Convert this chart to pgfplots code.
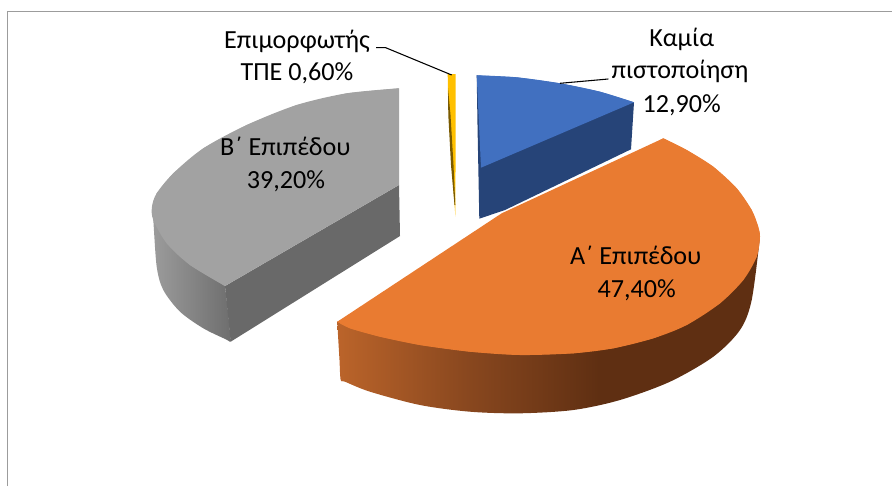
\documentclass[border=0pt]{standalone}
\usepackage{fontspec}
\setmainfont{Carlito}
\usepackage{pgfplots}
\pgfplotsset{compat=1.18}
\definecolor{orS1}{HTML}{BB642A}\definecolor{orS2}{HTML}{8A481F}\definecolor{orS3}{HTML}{5F2F12}
\definecolor{grS1}{HTML}{9C9C9C}\definecolor{grS2}{HTML}{6E6E6E}
\pgfdeclarehorizontalshading{orangeside}{100bp}{color(0bp)=(orS1); color(25bp)=(orS1); color(40bp)=(orS2); color(56bp)=(orS3); color(100bp)=(orS3)}
\pgfdeclarehorizontalshading{greyside}{100bp}{color(0bp)=(grS1); color(25bp)=(grS1); color(75bp)=(grS2); color(100bp)=(grS2)}
\definecolor{orT}{HTML}{E97B31}
\definecolor{blT}{HTML}{4170C0}
\definecolor{blS}{HTML}{264478}
\definecolor{grT}{HTML}{A2A2A2}
\definecolor{grF}{HTML}{696969}
\definecolor{yeT}{HTML}{FFC000}
\definecolor{yeS}{HTML}{7A5A00}
\definecolor{frameC}{HTML}{9C9C9C}
\tikzset{lbl/.style={anchor=base, font=\fontsize{19.6}{22}\selectfont, text=black, inner sep=0pt}}
\begin{document}
\begin{tikzpicture}
\begin{axis}[
  scale only axis, width=669pt, height=364.5pt,
  xmin=0, xmax=892, ymin=0, ymax=486, y dir=reverse,
  hide axis, clip=true,
]
% page extent
\addplot[white, line width=0.1pt] coordinates {(0,0)(892,0)(892,486)(0,486)(0,0)};
% frame
\addplot[frameC, line width=1.1pt] coordinates {(7.5,486)(7.5,11.5)(892,11.5)};
% grey slice: side wall
\addplot[draw=none, shading=greyside, smooth, tension=0.5] coordinates {
 (152,206.7)(153.3,220)(156.7,266.7)(163.3,290)(180,311.7)(203.3,328.3)(226,339.4)(230.7,341.7)(230,333)(228,312)(225,286)};
\addplot[draw=none, fill=grF] coordinates {(225,286)(399,185)(400,236)(230.7,341.7)(225,286)};
% grey slice: top
\addplot[draw=none, fill=grT] coordinates {
 (399,185)(399,88.3)(346.7,93.3)(296.7,105)(246.7,125)(203.3,148.3)(173.3,173.3)(156.7,193.3)(152,206.7)(153.3,220)(166.7,243.3)(190,265)(225,286)(399,185)};
\addplot[draw=none, fill=grT, smooth, tension=0.5] coordinates {
 (399,88.3)(346.7,93.3)(296.7,105)(246.7,125)(203.3,148.3)(173.3,173.3)(156.7,193.3)(152,206.7)(153.3,220)(166.7,243.3)(190,265)(225,286)};
% yellow slice
\addplot[draw=none, fill=yeT] coordinates {(447.7,74)(455.7,74)(455.4,216.7)(452,170)(448,95)(447.7,74)};
\addplot[draw=none, fill=yeS] coordinates {(448,88)(450.5,115)(453.5,165)(455.3,205)(454.5,205)(451,165)(448.3,115)(448,88)};
% blue slice
\addplot[draw=none, fill=blS] coordinates {(634,102.3)(631,149.3)(505,210)(479.3,218.7)(477.5,125)(476.7,75.3)(634,102.3)};
\addplot[draw=none, fill=blT] coordinates {(481,167.7)(476.7,75.3)(516.7,77.3)(560,83.3)(600,91.7)(634,102.3)(481,167.7)};
\addplot[draw=none, fill=blT, smooth, tension=0.5] coordinates {(476.7,75.3)(516.7,77.3)(560,83.3)(600,91.7)(634,102.3)};
% orange slice: side wall
\addplot[draw=none, shading=orangeside, smooth, tension=0.5] coordinates {
 (760,236.7)(751.7,300)(740,330)(713.3,356.7)(670,381.7)(620,400)(573.3,410)(520,413.3)(470,411.7)(420,405)(370,391.7)(345,381.7)(340.7,380)(339.5,360)(338.3,340)(337.3,321.7)};
% orange slice: top
\addplot[draw=none, fill=orT] coordinates {
 (501.7,213.3)(663.3,138.3)(686.7,150)(713.3,166.7)(736.7,188.3)(751.7,210)(758,226)(760,236.7)(756.7,256.7)(743.3,280)(720,303.3)(686.7,325)(653.3,338.3)(613.3,348.3)(573.3,353.3)(520,355)(470,351.7)(420,345)(380,336.7)(350,328.3)(337.3,321.7)(501.7,213.3)};
\addplot[draw=none, fill=orT, smooth, tension=0.5] coordinates {
 (663.3,138.3)(686.7,150)(713.3,166.7)(736.7,188.3)(751.7,210)(758,226)(760,236.7)(756.7,256.7)(743.3,280)(720,303.3)(686.7,325)(653.3,338.3)(613.3,348.3)(573.3,353.3)(520,355)(470,351.7)(420,345)(380,336.7)(350,328.3)(337.3,321.7)};
% leader lines
\addplot[black, line width=0.8pt] coordinates {(376,47.7)(385.7,47.7)(451.7,75)};
\addplot[black, line width=0.8pt] coordinates {(560,83.3)(608.3,79)};
% labels
\node[lbl] at (297,48.3) {Επιμορφωτής};
\node[lbl] at (297,80.7) {ΤΠΕ 0,60\%};
\node[lbl] at (681.7,46.7) {Καμία};
\node[lbl] at (680,78.3) {πιστοποίηση};
\node[lbl] at (681.7,112.7) {12,90\%};
\node[lbl] at (285.3,155) {Β΄ Επιπέδου};
\node[lbl] at (286,188.3) {39,20\%};
\node[lbl] at (635.7,264.3) {Α΄ Επιπέδου};
\node[lbl] at (636.7,297.7) {47,40\%};
\end{axis}
\end{tikzpicture}
\end{document}
